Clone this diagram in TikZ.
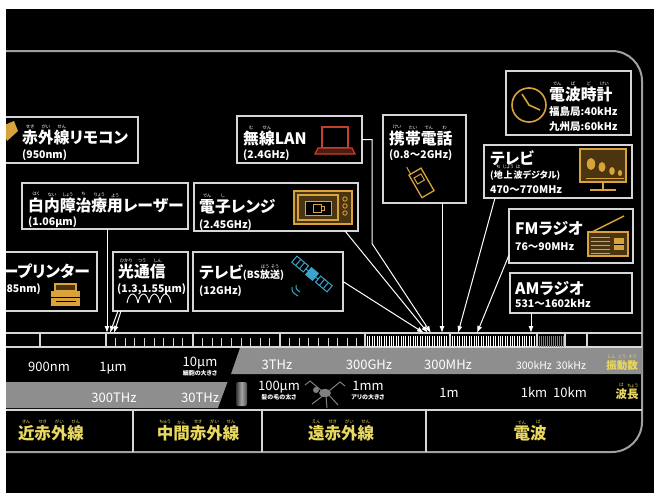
\documentclass[tikz,border=0pt]{standalone}
\usepackage{fontspec}
\setmainfont{Noto Sans CJK JP}[RawFeature=+palt]
\usetikzlibrary{arrows.meta}

\definecolor{boxline}{HTML}{D6D6D6}
\definecolor{framec}{HTML}{A0A0A0}
\definecolor{band}{HTML}{8E8E8E}
\definecolor{gold}{HTML}{D8A23C}
\definecolor{golddk}{HTML}{4A3510}
\definecolor{catyel}{HTML}{E8D860}
\definecolor{satblue}{HTML}{3AA4CC}
\definecolor{lapred}{HTML}{C4402A}

% furigana over one kanji
\newcommand{\rb}[2]{\leavevmode\vbox{\offinterlineskip\halign{\hfil##\hfil\cr{\mdseries\fontsize{4.5}{4.5}\selectfont#2}\cr\noalign{\kern1.2pt}#1\cr}}}

\tikzset{
  box/.style={draw=boxline, line width=1.3pt, fill=black, anchor=north west, inner sep=0pt, outer sep=0pt},
  ttl/.style={anchor=base west, inner sep=0pt, text=white, font=\bfseries\fontsize{15.8}{16}\selectfont},
  sub/.style={anchor=base west, inner sep=0pt, text=white, font=\bfseries\fontsize{10.5}{11}\selectfont},
  val/.style={anchor=base, inner sep=0pt, text=white, font=\fontsize{13}{13}\selectfont},
  note/.style={anchor=base, inner sep=0pt, text=white, font=\bfseries\fontsize{6}{6}\selectfont},
  cat/.style={anchor=base, inner sep=0pt, text=catyel, font=\bfseries\fontsize{16.5}{17}\selectfont},
  ray/.style={draw=white, line width=1pt, -{Latex[length=7pt,width=5pt]}},
  icon/.style={draw=gold, line width=1.3pt},
}

\begin{document}
\begin{tikzpicture}[x=1pt,y=-1pt]
\useasboundingbox (0,0) rectangle (654,493);
\fill[white] (0,0) rectangle (654,493);
\clip (6,9) rectangle (654,493);
\fill[black] (6,9) rectangle (654,493);

% outer frame
\draw[framec, line width=2pt, rounded corners=30pt] (0,51) -- (642,51) -- (642,452) -- (0,452);

% grey bands of the scale
\fill[band] (240,348) -- (642,348) -- (642,374) -- (231,374) -- cycle;
\fill[band] (0,382) -- (227.5,382) -- (218,408) -- (0,408) -- cycle;

% ruler
\draw[boxline, line width=1.2pt] (0,333) -- (642,333) (0,347) -- (642,347) (0,410) -- (642,410);
\foreach \x in {40,106,193,280,365,450,537,565,587}
  \draw[boxline, line width=1.2pt] (\x,333) -- (\x,347);
\foreach \a in {106,193,280}
  \foreach \k in {1,...,8}
    \draw[boxline, line width=.8pt] (\a+9.6*\k,338) -- (\a+9.6*\k,347);
\foreach \x in {367.4,369.8,...,448}
  \draw[white, line width=.7pt] (\x,336) -- (\x,347);
\foreach \x in {452.4,454.8,...,535}
  \draw[white, line width=.7pt] (\x,336) -- (\x,347);
\foreach \x in {539,541,...,563}
  \draw[gray, line width=.6pt] (\x,336) -- (\x,347);
\foreach \x in {133,262,426}
  \draw[boxline, line width=1.2pt] (\x,410) -- (\x,452);

% values
\node[val] (v900) at (49,371) {900nm};
\node[val] (v1u) at (113,371) {1µm};
\node[val] (v10u) at (200,366) {10µm};
\node[note] (c10u) at (200,375) {細胞の大きさ};
\node[val] (v3t) at (277,369) {3THz};
\node[val] (v300g) at (369,369) {300GHz};
\node[val] (v300m) at (448,369) {300MHz};
\node[val, font=\fontsize{10.5}{11}\selectfont] (v300k) at (534,369) {300kHz};
\node[val, font=\fontsize{10.5}{11}\selectfont] (v30k) at (571,369) {30kHz};
\node[val] (v300t) at (114,402) {300THz};
\node[val] (v30t) at (200,402) {30THz};
\node[val] (v100u) at (279,390) {100µm};
\node[note] (c100u) at (279,399) {髪の毛の太さ};
\node[val] (v1mm) at (368,390) {1mm};
\node[note] (c1mm) at (368,399) {アリの大きさ};
\node[val] (v1m) at (449,397) {1m};
\node[val] (v1k) at (534,397) {1km};
\node[val] (v10k) at (570,397) {10km};
\node[cat, font=\bfseries\fontsize{10.5}{11}\selectfont] (shindo) at (622,369) {\rb{振}{しん}\rb{動}{どう}\rb{数}{すう}};
\node[cat, font=\bfseries\fontsize{11.5}{12}\selectfont] (hacho) at (627,398) {\rb{波}{は}\rb{長}{ちょう}};

% bands of the spectrum
\node[cat] (kin) at (51,439) {\rb{近}{きん}\rb{赤}{せき}\rb{外}{がい}\rb{線}{せん}};
\node[cat] (chu) at (198,439) {\rb{中}{ちゅう}\rb{間}{かん}\rb{赤}{せき}\rb{外}{がい}\rb{線}{せん}};
\node[cat] (en) at (341,439) {\rb{遠}{えん}\rb{赤}{せき}\rb{外}{がい}\rb{線}{せん}};
\node[cat] (denpa) at (530,439) {\rb{電}{でん}\rb{波}{ぱ}};

% hair and ant
\shade[left color=black!80, right color=black!70, middle color=gray!70, rounded corners=2pt] (236,382) rectangle (247,406);
\fill[gray] (325,393) ellipse (6 and 4) (316,390) circle (3);
\draw[gray, line width=1pt] (322,391) -- (310,381) -- (305,385) (324,395) -- (312,404) (328,394) -- (338,405) (329,391) -- (340,382) -- (345,386) (326,396) -- (327,408);

% boxes
\node[box, minimum width=148pt, minimum height=46pt] (remo) at (-10,117) {};
\node[box, minimum width=166pt, minimum height=46pt] (hakunai) at (22,183) {};
\node[box, minimum width=107pt, minimum height=59pt] (printer) at (-10,252) {};
\node[box, minimum width=75pt, minimum height=59pt] (hikari) at (113,252) {};
\node[box, minimum width=150pt, minimum height=59pt] (bs) at (193,252) {};
\node[box, minimum width=164pt, minimum height=48pt] (renji) at (194,183) {};
\node[box, minimum width=125pt, minimum height=47pt] (lan) at (237,116) {};
\node[box, minimum width=83pt, minimum height=88pt] (keitai) at (383,115) {};
\node[box, minimum width=125pt, minimum height=64pt] (dokei) at (506,71) {};
\node[box, minimum width=148pt, minimum height=53pt] (tv) at (484,145) {};
\node[box, minimum width=124pt, minimum height=54pt] (fm) at (509,209) {};
\node[box, minimum width=122pt, minimum height=40pt] (am) at (510,273) {};

% texts in the boxes
\node[ttl] (remo-t) at (22,143) {\rb{赤}{せき}\rb{外}{がい}\rb{線}{せん}リモコン};
\node[sub] (remo-s) at (22,158) {(950nm)};
\node[ttl] (hakunai-t) at (28,211) {\rb{白}{はく}\rb{内}{ない}\rb{障}{しょう}\rb{治}{ち}\rb{療}{りょう}\rb{用}{よう}レーザー};
\node[sub] (hakunai-s) at (28,225) {(1.06µm)};
\node[ttl, anchor=base east] (printer-t) at (90,277) {レーザープリンター};
\node[sub, anchor=base east] (printer-s) at (41,292) {(785nm)};
\node[ttl] (hikari-t) at (118,277) {\rb{光}{ひかり}\rb{通}{つう}\rb{信}{しん}};
\node[sub] (hikari-s) at (117,292) {(1.3,1.55µm)};
\node[ttl] (bs-t) at (199,278) {テレビ{\fontsize{10}{10}\selectfont(BS\rb{放}{ほう}\rb{送}{そう})}};
\node[sub] (bs-s) at (199,294) {(12GHz)};
\node[ttl] (renji-t) at (199,212) {\rb{電}{でん}\rb{子}{し}レンジ};
\node[sub] (renji-s) at (199,228) {(2.45GHz)};
\node[ttl] (lan-t) at (243,144) {\rb{無}{む}\rb{線}{せん}LAN};
\node[sub] (lan-s) at (243,158) {(2.4GHz)};
\node[ttl] (keitai-t) at (389,144) {\rb{携}{けい}\rb{帯}{たい}\rb{電}{でん}\rb{話}{わ}};
\node[sub] (keitai-s) at (389,158) {(0.8～2GHz)};
\node[ttl] (dokei-t) at (549,100) {\rb{電}{でん}\rb{波}{ぱ}\rb{時}{ど}\rb{計}{けい}};
\node[sub] (dokei-a) at (549,115) {福島局:40kHz};
\node[sub] (dokei-b) at (549,130) {九州局:60kHz};
\node[ttl] (tv-t) at (490,164) {テレビ};
\node[sub, font=\bfseries\fontsize{9}{9}\selectfont] (tv-a) at (490,178) {(\rb{地}{ち}\rb{上}{じょう}\rb{波}{は}デジタル)};
\node[sub] (tv-b) at (490,193) {470～770MHz};
\node[ttl] (fm-t) at (515,234) {FMラジオ};
\node[sub] (fm-s) at (515,250) {76～90MHz};
\node[ttl] (am-t) at (515,294) {AMラジオ};
\node[sub] (am-s) at (515,307) {531～1602kHz};

% icons
\fill[gold] (2,126) -- (14,121) -- (18,131) -- (7,141) -- cycle;
\draw[icon, fill=golddk] (55,284) rectangle (76,291);
\fill[gold] (51,291) rectangle (80,306);
\draw[black, line width=1pt] (51,297) -- (80,297) (56,301) -- (76,301);
\foreach \i in {0,...,3}
  \draw[white, line width=.9pt] (127+11*\i,303) .. controls (129+11*\i,291) and (136+11*\i,291) .. (138+11*\i,303);
\begin{scope}[shift={(312,274)}, rotate=-40]
  \draw[satblue, line width=1pt] (-23,-4) rectangle (-8,4) (-18,-4) -- (-18,4) (-13,-4) -- (-13,4);
  \draw[satblue, line width=1pt] (8,-4) rectangle (23,4) (13,-4) -- (13,4) (18,-4) -- (18,4);
  \draw[satblue, line width=1pt] (-8,0) -- (8,0);
  \fill[satblue] (-5,-5) rectangle (5,5);
\end{scope}
\draw[satblue, line width=1pt] (296,285) .. controls (296,289) .. (300,292) (292,287) .. controls (292,292) .. (298,296);
\draw[icon, fill=golddk] (294,191) rectangle (352,224);
\draw[icon] (298,195) rectangle (338,220);
\draw[gold, line width=1pt, fill=black] (305,201) rectangle (331,215);
\draw[gold, line width=1pt] (313,204) rectangle (321,212) (321,206) -- (324,206) -- (324,210) -- (321,210);
\foreach \yy in {199,206,213}
  \draw[gold, line width=.8pt] (345,\yy) circle (2.2);
\draw[lapred, line width=1.3pt] (322,127) rectangle (348,148);
\draw[lapred, line width=1.3pt, fill=lapred!40!black] (318,148) -- (352,148) -- (355,154) -- (315,154) -- cycle;
\begin{scope}[rotate around={30:(421,182)}]
  \draw[icon] (414,170) rectangle (428,196);
  \draw[gold, line width=1pt] (417,175) rectangle (425,182) (416,170) -- (416,162);
\end{scope}
\draw[gold, line width=1.6pt] (529,105) circle (17);
\draw[gold, line width=1.6pt] (522,94) -- (529,105) -- (540,110);
\draw[icon, fill=golddk] (580,149) rectangle (626,182);
\foreach \tx/\ty/\tr in {591/164/6, 602/167/5, 612/171/4, 620/173/3}
  \fill[gold] (\tx,\ty) ellipse (\tr*0.7 and \tr);
\draw[gold, line width=1pt] (586,178) -- (624,178);
\draw[gold, line width=1.3pt] (603,182) -- (603,189) (590,190) -- (616,190);
\draw[gold, line width=1.4pt] (592,232) -- (624,216);
\draw[icon, fill=golddk] (588,232) rectangle (628,256);
\foreach \yy in {237,241,...,253}
  \draw[gold, line width=.7pt] (591,\yy) -- (610,\yy);
\fill[gold] (614,238) rectangle (624,250);
\draw[black, line width=.8pt] (614,244) -- (624,244);

% connectors
\coordinate (kt) at (442,333);
\draw[ray] (hakunai.south -| 107,0) -- (107,333);
\draw[ray] ([xshift=5pt]hikari.south west) -- (110,333);
\draw[ray] ([xshift=8pt]hikari.south west) -- (114,333);
\draw[ray] (bs.east) -- (424,333);
\draw[ray] ([xshift=-13pt]renji.south east) -- (428,333);
\draw[ray] (lan.east) -- ++(10,0) -- ++(0,104) -- (431,333);
\draw[ray] (kt |- keitai.south) -- (kt);
\draw[ray] ([xshift=11pt]tv.south west) -- (458,333);
\draw[ray] ([yshift=8pt]fm.south west) -- (477,333);
\draw[ray] ([xshift=21pt]am.south west) -- (531,333);
\end{tikzpicture}
\end{document}
